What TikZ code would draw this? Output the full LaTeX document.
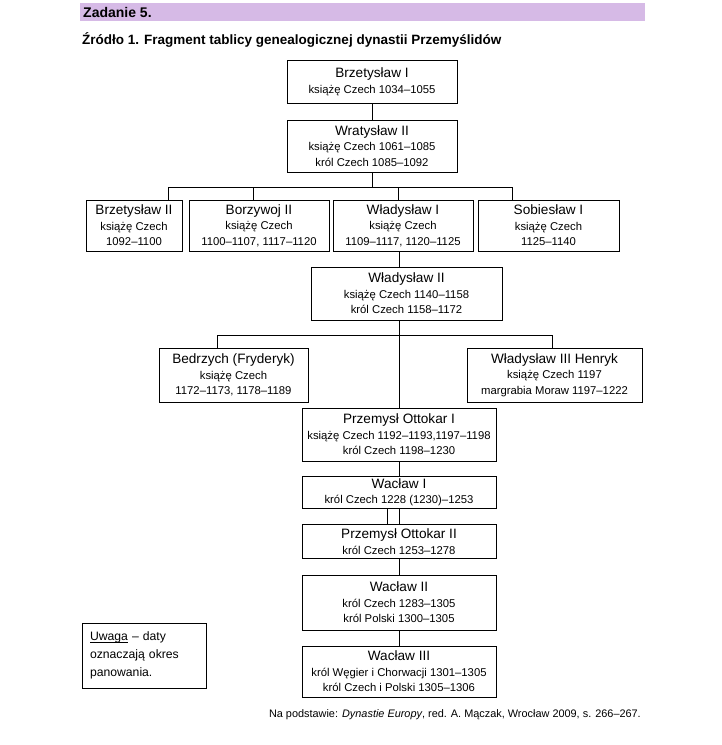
\documentclass[tikz,border=0pt]{standalone}
\usepackage{fontspec}
\setmainfont{Liberation Sans}
\usetikzlibrary{positioning}
\definecolor{fiolet}{RGB}{214,186,230}
\newcommand{\imie}[1]{{\fontsize{13.6}{15.5}\selectfont #1}}
\newcommand{\podkresl}[1]{\setbox0\hbox{#1}\rlap{\rule[-2.6pt]{\wd0}{0.8pt}}#1}

\begin{document}
\begin{tikzpicture}[
  x=1pt, y=-1pt,
  osoba/.style={draw, line width=0.8pt, align=center, inner sep=0pt, font=\fontsize{11.3}{15.5}\selectfont},
  linia/.style={line width=0.8pt}
]
\useasboundingbox (0,0) rectangle (722,745);

% naglowek
\fill[fiolet] (80,3) rectangle (645,21);
\node[anchor=west, inner sep=0pt, font=\bfseries\fontsize{14}{16}\selectfont] (zad) at (83,12) {Zadanie 5.};
\node[anchor=west, inner sep=0pt, font=\bfseries\fontsize{13.5}{16}\selectfont] (tytul) at (82,40) {Źródło 1. Fragment tablicy genealogicznej dynastii Przemyślidów};

% osoby
\node[osoba, minimum width=170pt, minimum height=43pt] (brzI) at (372,81.5) {\imie{Brzetysław I}\\książę Czech 1034--1055};
\node[osoba, minimum width=170pt, minimum height=52pt] (wratII) at (372,146) {\imie{Wratysław II}\\książę Czech 1061--1085\\król Czech 1085--1092};

\node[osoba, minimum width=96pt, minimum height=51pt] (brzII) at (134,225.5) {\imie{Brzetysław II}\\książę Czech\\1092--1100};
\node[osoba, minimum width=140pt, minimum height=51pt] (borz) at (259,225.5) {\imie{Borzywoj II}\\książę Czech\\1100--1107, 1117--1120};
\node[osoba, minimum width=140pt, minimum height=51pt] (wlI) at (403,225.5) {\imie{Władysław I}\\książę Czech\\1109--1117, 1120--1125};
\node[osoba, minimum width=141pt, minimum height=51pt] (sobI) at (548.5,225.5) {\imie{Sobiesław I}\\książę Czech\\1125--1140};

\node[osoba, minimum width=191pt, minimum height=53pt] (wlII) at (406.5,293.5) {\imie{Władysław II}\\książę Czech 1140--1158\\król Czech 1158--1172};

\node[osoba, minimum width=149pt, minimum height=54pt] (bedr) at (233.5,375) {\imie{Bedrzych (Fryderyk)}\\książę Czech\\1172--1173, 1178--1189};
\node[osoba, minimum width=175pt, minimum height=54pt] (wlIII) at (554.5,375) {\imie{Władysław III Henryk}\\książę Czech 1197\\margrabia Moraw 1197--1222};

\node[osoba, minimum width=194pt, minimum height=53pt] (ottI) at (399,434.5) {\imie{Przemysł Ottokar I}\\książę Czech 1192--1193,1197--1198\\król Czech 1198--1230};
\node[osoba, minimum width=194pt, minimum height=32pt] (wI) at (399,492) {\imie{Wacław I}\\król Czech 1228 (1230)--1253};
\node[osoba, minimum width=194pt, minimum height=34pt] (ottII) at (399,541.5) {\imie{Przemysł Ottokar II}\\król Czech 1253--1278};
\node[osoba, minimum width=194pt, minimum height=55pt] (wII) at (399,602.5) {\imie{Wacław II}\\król Czech 1283--1305\\król Polski 1300--1305};
\node[osoba, minimum width=194pt, minimum height=51pt] (wIII) at (399,671.5) {\imie{Wacław III}\\król Węgier i Chorwacji 1301--1305\\król Czech i Polski 1305--1306};

% uwaga i zrodlo
\node[draw, line width=0.8pt, align=left, text width=108pt, inner xsep=8pt, inner ysep=0pt, minimum height=65pt, font=\fontsize{12.2}{18}\selectfont] (uwaga) at (144,655.5) {\podkresl{Uwaga} -- daty\\oznaczają okres\\panowania.};
\node[anchor=east, inner sep=0pt, font=\fontsize{10.9}{13}\selectfont] (zrodlo) at (641,715) {Na podstawie: \textit{Dynastie Europy}, red. A. Mączak, Wrocław 2009, s. 266--267.};

% linie
\coordinate (szyna1) at (0,187);
\coordinate (szyna2) at (0,335);
\draw[linia] (brzI) -- (wratII);
\draw[linia] (wratII.south) -- (wratII.south |- szyna1);
\draw[linia] ([xshift=34pt]brzII.north) |- ([xshift=-36.5pt]sobI.north |- szyna1) -- ([xshift=-36.5pt]sobI.north);
\draw[linia] ([xshift=-6pt]borz.north) -- ([xshift=-6pt]borz.north |- szyna1);
\draw[linia] ([xshift=-5pt]wlI.north) -- ([xshift=-5pt]wlI.north |- szyna1);
\draw[linia] (wlI.south -| ottI) -- (wlII.north -| ottI);
\draw[linia] (wlII.south -| ottI) -- (ottI.north);
\draw[linia] ([xshift=-16.5pt]bedr.north) |- ([xshift=-2.5pt]wlIII.north |- szyna2) -- ([xshift=-2.5pt]wlIII.north);
\draw[linia] (ottI) -- (wI);
\draw[linia] (wI) -- (ottII);
\draw[linia] ([xshift=-12pt]wI.south) -- ([xshift=-12pt]ottII.north);
\draw[linia] (ottII) -- (wII);
\draw[linia] (wII) -- (wIII);
\end{tikzpicture}
\end{document}
